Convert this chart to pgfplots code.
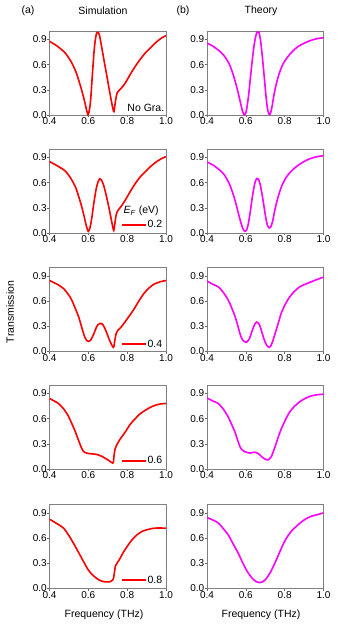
\documentclass[border=0pt]{standalone}
\usepackage{fontspec}
\setmainfont{Liberation Sans}
\usepackage{pgfplots}
\pgfplotsset{compat=1.18}
\definecolor{simred}{RGB}{255,0,0}
\definecolor{theomag}{RGB}{255,0,255}

\pgfplotsset{
  panel/.style={
    scale only axis, width=116.5pt, height=84pt, anchor=south west,
    xmin=0.4, xmax=1.0, ymin=0, ymax=1.0,
    xtick={0.4,0.6,0.8,1.0}, ytick={0,0.3,0.6,0.9},
    tick align=outside, tick pos=left, major tick length=2pt,
    axis line style={black!50}, tick style={black!60, thin},
    ticklabel style={font=\fontsize{10}{12}\selectfont, inner sep=0.5pt},
    xticklabel style={/pgf/number format/.cd, fixed, fixed zerofill, precision=1},
    yticklabel style={/pgf/number format/.cd, fixed, fixed zerofill, precision=1},
    /pgf/number format/assume math mode=true,
  },
  sim/.style={simred, line width=1.6pt, smooth, tension=0.45},
  theo/.style={theomag, line width=1.6pt, smooth, tension=0.45},
  simleg/.style={
    legend style={draw=none, fill=none, at={(0.615,#1)}, anchor=west,
      inner sep=0pt, outer sep=0pt, nodes={inner sep=0.8pt},
      font=\fontsize{10.5}{12}\selectfont},
    legend image code/.code={%
      \pgfsetlinewidth{1.6pt}\pgfsetstrokecolor{simred}%
      \pgfpathmoveto{\pgfpoint{0pt}{0pt}}\pgfpathlineto{\pgfpoint{24pt}{0pt}}%
      \pgfusepath{stroke}},
  },
}

\begin{document}
\begin{tikzpicture}
\useasboundingbox (0,0) rectangle (349pt,-627pt);
\tikzset{lbl/.style={font=\fontsize{10.5}{12}\selectfont, inner sep=0pt}}

% column headings and shared labels
\node[lbl] at (28pt,-11pt) {(a)};
\node[lbl] at (103pt,-11pt) {Simulation};
\node[lbl] at (183pt,-11pt) {(b)};
\node[lbl] at (261pt,-11pt) {Theory};
\node[lbl, rotate=90] at (10pt,-312pt) {Transmission};
\node[lbl] at (104pt,-615pt) {Frequency (THz)};
\node[lbl] at (261pt,-615pt) {Frequency (THz)};
\node[lbl, anchor=base west] at (123.3pt,-213.7pt)
  {\textit{E}\textsubscript{\textit{F}} (eV)};

% ---- simulation column ----
\begin{axis}[panel, at={(49.5pt,-115pt)}]
\addplot[sim] coordinates {
(0.40,0.877)(0.44,0.82)(0.48,0.74)(0.51,0.64)(0.535,0.52)(0.555,0.38)(0.57,0.26)
(0.583,0.14)(0.592,0.05)(0.598,0.005)(0.604,0.04)(0.612,0.18)(0.622,0.52)(0.632,0.82)
(0.641,0.96)(0.648,0.985)(0.656,0.96)(0.665,0.86)(0.68,0.66)(0.695,0.47)(0.708,0.30)
(0.72,0.15)(0.728,0.06)(0.732,0.04)(0.737,0.12)(0.743,0.21)(0.75,0.27)(0.77,0.32)
(0.79,0.38)(0.815,0.48)(0.842,0.58)(0.868,0.665)(0.894,0.74)(0.92,0.80)(0.946,0.86)
(0.973,0.91)(1.0,0.945)};
\node[anchor=base east, font=\fontsize{10.5}{12}\selectfont, inner sep=0pt]
  at (axis cs:0.992,0.044) {No Gra.};
\end{axis}

\begin{axis}[panel, simleg=0.095, at={(49.5pt,-233pt)}]
\addplot[sim] coordinates {
(0.40,0.85)(0.44,0.80)(0.48,0.74)(0.51,0.65)(0.535,0.54)(0.555,0.40)(0.572,0.26)
(0.585,0.13)(0.594,0.05)(0.600,0.02)(0.607,0.05)(0.616,0.15)(0.628,0.35)(0.64,0.52)
(0.65,0.61)(0.66,0.645)(0.668,0.63)(0.68,0.56)(0.695,0.42)(0.708,0.28)(0.72,0.14)
(0.727,0.06)(0.731,0.03)(0.736,0.10)(0.742,0.20)(0.75,0.26)(0.77,0.32)(0.79,0.39)
(0.815,0.49)(0.842,0.59)(0.868,0.67)(0.894,0.73)(0.92,0.79)(0.946,0.84)(0.973,0.88)
(1.0,0.91)};
\addlegendentry{0.2}
\end{axis}

\begin{axis}[panel, simleg=0.088, at={(49.5pt,-351.5pt)}]
\addplot[sim] coordinates {
(0.40,0.845)(0.44,0.80)(0.472,0.75)(0.50,0.67)(0.515,0.61)(0.535,0.50)(0.549,0.42)
(0.562,0.32)(0.572,0.24)(0.582,0.17)(0.592,0.13)(0.60,0.12)(0.61,0.13)(0.62,0.17)
(0.63,0.22)(0.64,0.28)(0.65,0.32)(0.661,0.335)(0.67,0.33)(0.68,0.30)(0.69,0.25)
(0.70,0.19)(0.71,0.13)(0.72,0.08)(0.728,0.05)(0.732,0.06)(0.737,0.14)(0.743,0.21)
(0.75,0.245)(0.765,0.28)(0.782,0.33)(0.81,0.42)(0.834,0.50)(0.86,0.60)(0.886,0.69)
(0.91,0.75)(0.937,0.80)(0.97,0.83)(1.0,0.845)};
\addlegendentry{0.4}
\end{axis}

\begin{axis}[panel, simleg=0.095, at={(49.5pt,-469pt)}]
\addplot[sim] coordinates {
(0.40,0.84)(0.446,0.78)(0.475,0.71)(0.497,0.63)(0.515,0.54)(0.532,0.45)(0.545,0.37)
(0.558,0.29)(0.568,0.235)(0.58,0.20)(0.60,0.185)(0.62,0.18)(0.64,0.175)(0.655,0.165)
(0.67,0.15)(0.685,0.13)(0.70,0.11)(0.715,0.085)(0.725,0.07)(0.729,0.08)(0.733,0.17)
(0.738,0.24)(0.745,0.28)(0.765,0.36)(0.79,0.44)(0.815,0.53)(0.842,0.60)(0.868,0.66)
(0.894,0.70)(0.92,0.735)(0.946,0.76)(0.973,0.775)(1.0,0.78)};
\addlegendentry{0.6}
\end{axis}

\begin{axis}[panel, simleg=0.10, at={(49.5pt,-588.5pt)}]
\addplot[sim] coordinates {
(0.40,0.825)(0.44,0.77)(0.472,0.72)(0.50,0.63)(0.523,0.54)(0.545,0.45)(0.566,0.36)
(0.585,0.28)(0.60,0.22)(0.618,0.17)(0.635,0.135)(0.653,0.105)(0.67,0.087)(0.685,0.08)
(0.70,0.078)(0.71,0.08)(0.72,0.09)(0.728,0.11)(0.732,0.15)(0.736,0.22)(0.74,0.27)
(0.75,0.31)(0.764,0.36)(0.78,0.43)(0.80,0.50)(0.825,0.58)(0.851,0.64)(0.877,0.68)
(0.903,0.70)(0.93,0.715)(0.954,0.72)(0.977,0.72)(1.0,0.718)};
\addlegendentry{0.8}
\end{axis}

% ---- theory column ----
\begin{axis}[panel, at={(207pt,-115pt)}]
\addplot[theo] coordinates {
(0.40,0.857)(0.43,0.82)(0.465,0.76)(0.49,0.70)(0.516,0.60)(0.535,0.48)(0.55,0.36)
(0.562,0.25)(0.571,0.16)(0.58,0.07)(0.587,0.02)(0.593,0.0)(0.599,0.02)(0.605,0.08)
(0.615,0.25)(0.627,0.52)(0.637,0.73)(0.646,0.88)(0.655,0.97)(0.662,0.995)(0.668,0.98)
(0.675,0.90)(0.683,0.74)(0.693,0.50)(0.704,0.22)(0.712,0.07)(0.72,0.005)(0.727,0.02)
(0.735,0.10)(0.745,0.24)(0.756,0.36)(0.77,0.48)(0.79,0.60)(0.815,0.69)(0.841,0.76)
(0.866,0.81)(0.892,0.845)(0.92,0.875)(0.944,0.895)(0.97,0.91)(1.0,0.92)};
\end{axis}

\begin{axis}[panel, at={(207pt,-233pt)}]
\addplot[theo] coordinates {
(0.40,0.845)(0.43,0.81)(0.465,0.75)(0.49,0.69)(0.516,0.58)(0.535,0.46)(0.55,0.34)
(0.562,0.23)(0.575,0.12)(0.585,0.05)(0.595,0.02)(0.603,0.03)(0.612,0.10)(0.622,0.24)
(0.635,0.45)(0.647,0.60)(0.657,0.65)(0.665,0.64)(0.675,0.57)(0.688,0.40)(0.70,0.22)
(0.71,0.10)(0.72,0.06)(0.728,0.07)(0.738,0.14)(0.75,0.28)(0.765,0.42)(0.785,0.56)
(0.81,0.67)(0.84,0.75)(0.866,0.80)(0.892,0.84)(0.92,0.875)(0.944,0.895)(0.97,0.91)
(1.0,0.92)};
\end{axis}

\begin{axis}[panel, at={(207pt,-351.5pt)}]
\addplot[theo] coordinates {
(0.40,0.84)(0.43,0.80)(0.458,0.77)(0.485,0.70)(0.509,0.615)(0.527,0.52)(0.544,0.42)
(0.557,0.32)(0.569,0.22)(0.578,0.16)(0.586,0.13)(0.595,0.115)(0.603,0.11)(0.612,0.13)
(0.62,0.16)(0.63,0.23)(0.638,0.28)(0.647,0.33)(0.656,0.35)(0.664,0.34)(0.672,0.31)
(0.68,0.25)(0.689,0.18)(0.698,0.12)(0.706,0.08)(0.713,0.06)(0.72,0.05)(0.727,0.06)
(0.735,0.10)(0.745,0.17)(0.757,0.26)(0.77,0.36)(0.783,0.46)(0.805,0.57)(0.826,0.65)
(0.85,0.715)(0.877,0.77)(0.905,0.80)(0.937,0.83)(0.97,0.86)(1.0,0.885)};
\end{axis}

\begin{axis}[panel, at={(207pt,-469pt)}]
\addplot[theo] coordinates {
(0.40,0.845)(0.43,0.81)(0.458,0.78)(0.485,0.71)(0.509,0.62)(0.527,0.53)(0.544,0.44)
(0.557,0.35)(0.569,0.27)(0.58,0.23)(0.595,0.205)(0.61,0.195)(0.62,0.19)(0.633,0.195)
(0.646,0.20)(0.659,0.19)(0.672,0.17)(0.685,0.14)(0.697,0.12)(0.707,0.11)(0.715,0.11)
(0.724,0.125)(0.732,0.15)(0.745,0.23)(0.757,0.31)(0.77,0.40)(0.783,0.48)(0.805,0.59)
(0.826,0.68)(0.85,0.745)(0.877,0.80)(0.905,0.84)(0.937,0.87)(0.97,0.885)(1.0,0.89)};
\end{axis}

\begin{axis}[panel, at={(207pt,-588.5pt)}]
\addplot[theo] coordinates {
(0.40,0.845)(0.43,0.815)(0.458,0.78)(0.485,0.71)(0.509,0.64)(0.535,0.53)(0.561,0.42)
(0.583,0.31)(0.603,0.22)(0.62,0.16)(0.638,0.11)(0.655,0.08)(0.672,0.07)(0.69,0.085)
(0.706,0.12)(0.728,0.20)(0.749,0.30)(0.77,0.41)(0.791,0.52)(0.812,0.61)(0.834,0.68)
(0.86,0.74)(0.885,0.79)(0.91,0.83)(0.937,0.86)(0.97,0.88)(1.0,0.90)};
\end{axis}
\end{tikzpicture}
\end{document}
